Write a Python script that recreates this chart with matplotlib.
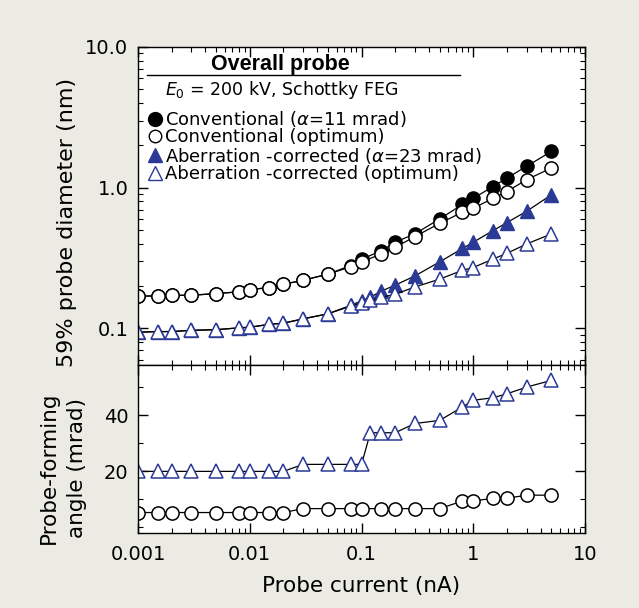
import matplotlib
matplotlib.use("Agg")
import matplotlib.pyplot as plt
from matplotlib.lines import Line2D
from matplotlib.ticker import MultipleLocator, NullFormatter, LogLocator

plt.rcParams['font.family'] = ['DejaVu Sans']
plt.rcParams['mathtext.fontset'] = 'dejavusans'

# probe current (nA)
current_circ = [0.001, 0.0015, 0.002, 0.003, 0.005, 0.008, 0.01, 0.015, 0.02, 0.03,
                0.05, 0.08, 0.1, 0.15, 0.2, 0.3, 0.5, 0.8, 1.0, 1.5, 2, 3, 5]
current_tri = [0.001, 0.0015, 0.002, 0.003, 0.005, 0.008, 0.01, 0.015, 0.02, 0.03,
               0.05, 0.08, 0.1, 0.12, 0.15, 0.2, 0.3, 0.5, 0.8, 1.0, 1.5, 2, 3, 5]

# 59% probe diameter (nm)
conv_fixed = [0.170, 0.170, 0.172, 0.172, 0.177, 0.182, 0.189, 0.195, 0.206, 0.220,
              0.243, 0.28, 0.31, 0.356, 0.41, 0.47, 0.60, 0.76, 0.84, 1.02, 1.17, 1.42, 1.81]
conv_opt = [0.170, 0.170, 0.172, 0.172, 0.177, 0.182, 0.189, 0.195, 0.206, 0.220,
            0.243, 0.274, 0.297, 0.338, 0.377, 0.449, 0.558, 0.67, 0.715, 0.84, 0.94, 1.14, 1.38]
corr_fixed = [0.094, 0.095, 0.095, 0.097, 0.098, 0.101, 0.102, 0.107, 0.109, 0.117,
              0.127, 0.146, 0.157, 0.167, 0.184, 0.203, 0.236, 0.297, 0.37, 0.41, 0.495, 0.565, 0.68, 0.89]
corr_opt = [0.094, 0.095, 0.095, 0.097, 0.098, 0.101, 0.102, 0.107, 0.109, 0.117,
            0.127, 0.144, 0.152, 0.158, 0.166, 0.175, 0.197, 0.224, 0.259, 0.271, 0.311, 0.342, 0.398, 0.47]

# probe-forming angle (mrad)
angle_conv = [5.3, 5.3, 5.3, 5.3, 5.3, 5.3, 5.3, 5.3, 5.3, 6.7,
              6.7, 6.7, 6.7, 6.7, 6.7, 6.7, 6.7, 9.4, 9.4, 10.4, 10.4, 11.5, 11.5]
angle_corr = [20, 20, 20, 20, 20, 20, 20, 20, 20, 22.5,
              22.5, 22.5, 22.5, 33.8, 33.8, 33.8, 37.1, 38.2, 43.0, 45.4, 46.3, 47.7, 50.1, 52.5]

labels = ['Conventional ($\\alpha$=11 mrad)', 'Conventional (optimum)',
          'Aberration -corrected ($\\alpha$=23 mrad)', 'Aberration -corrected (optimum)']

blue = '#2b3a96'
bg = '#ebebe4'
ms = 9.5

fig = plt.figure(figsize=(6.39, 6.08), dpi=100, facecolor=bg)
gs = fig.add_gridspec(2, 1, height_ratios=[318, 168], hspace=0,
                      left=0.216, right=0.9155, top=0.9227, bottom=0.1234)
ax1 = fig.add_subplot(gs[0])
ax2 = fig.add_subplot(gs[1], sharex=ax1)

# top panel: probe diameter
ax1.plot(current_circ, conv_fixed, '-o', color='k', mfc='k', mec='k', ms=ms, lw=0.9)
ax1.plot(current_circ, conv_opt, '-o', color='k', mfc='white', mec='k', ms=ms, lw=0.9, mew=1.1)
ax1.plot(current_tri, corr_fixed, '-^', color='k', mfc=blue, mec=blue, ms=ms, lw=0.9)
ax1.plot(current_tri, corr_opt, '-^', color='k', mfc='white', mec=blue, ms=ms, lw=0.9, mew=1.1)

ax1.set_xscale('log')
ax1.set_yscale('log')
ax1.set_xlim(0.001, 10)
ax1.set_ylim(0.055, 10)
ax1.set_yticks([0.1, 1.0, 10.0])
ax1.set_yticklabels(['0.1', '1.0', '10.0'])
ax1.yaxis.set_minor_locator(LogLocator(base=10, subs=range(2, 10)))
ax1.yaxis.set_minor_formatter(NullFormatter())
ax1.set_ylabel('59% probe diameter (nm)', fontsize=16)
ax1.yaxis.set_label_coords(-0.136, 0.447)
plt.setp(ax1.get_xticklabels(), visible=False)

ax1.text(0.318, 0.945, 'Overall probe', transform=ax1.transAxes, ha='center', va='center',
         fontsize=15.5, fontweight='bold', family='Liberation Sans')
ax1.plot([0.02, 0.72], [0.912, 0.912], transform=ax1.transAxes, color='k', lw=1)
ax1.text(0.06, 0.865, '$E_0$ = 200 kV, Schottky FEG', transform=ax1.transAxes,
         ha='left', va='center', fontsize=12.5)

handles = [Line2D([], [], ls='none', marker='o', mfc='k', mec='k', ms=10),
           Line2D([], [], ls='none', marker='o', mfc='white', mec='k', ms=9),
           Line2D([], [], ls='none', marker='^', mfc=blue, mec=blue, ms=10),
           Line2D([], [], ls='none', marker='^', mfc='white', mec=blue, ms=10)]
ax1.legend(handles, labels, loc='upper left', bbox_to_anchor=(0.022, 0.81), frameon=False,
           fontsize=13, handlelength=0.6, handletextpad=0.25, labelspacing=-0.04,
           borderpad=0.1, borderaxespad=0)

# bottom panel: probe-forming angle
ax2.plot(current_circ, angle_conv, '-o', color='k', mfc='white', mec='k', ms=ms, lw=0.9, mew=1.1)
ax2.plot(current_tri, angle_corr, '-^', color='k', mfc='white', mec=blue, ms=ms, lw=0.9, mew=1.1)
ax2.set_ylim(-2, 58)
ax2.set_yticks([20, 40])
ax2.yaxis.set_minor_locator(MultipleLocator(10))
ax2.set_xticks([0.001, 0.01, 0.1, 1, 10])
ax2.set_xticklabels(['0.001', '0.01', '0.1', '1', '10'])
ax2.set_xlabel('Probe current (nA)', fontsize=15.5, labelpad=8)
ax2.set_ylabel('Probe-forming\nangle (mrad)', fontsize=15.5, linespacing=1.5)
ax2.yaxis.set_label_coords(-0.114, 0.387)

for ax in (ax1, ax2):
    ax.set_facecolor('white')
    ax.tick_params(which='both', direction='in', top=True, right=True, labelsize=14)
    ax.tick_params(which='major', length=7, width=1)
    ax.tick_params(which='minor', length=3.5, width=0.8)
    ax.tick_params(axis='y', which='major', pad=7)
    ax.tick_params(axis='x', which='major', pad=9)
    ax.xaxis.set_minor_locator(LogLocator(base=10, subs=range(2, 10)))
    ax.xaxis.set_minor_formatter(NullFormatter())
    for s in ax.spines.values():
        s.set_linewidth(1)

fig.savefig('out.png', dpi=100, facecolor=bg)
